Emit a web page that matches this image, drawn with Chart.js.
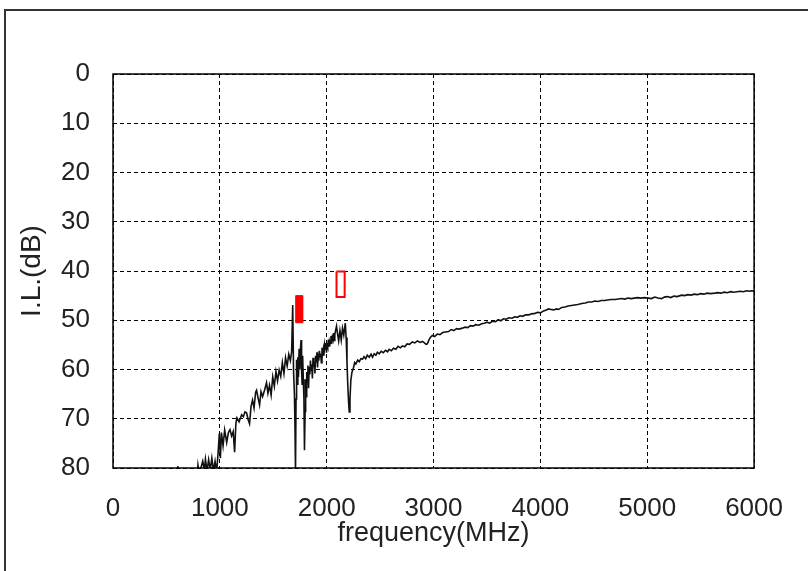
<!DOCTYPE html>
<html>
<head>
<meta charset="utf-8">
<script src="https://cdn.jsdelivr.net/npm/chart.js@4.4.0/dist/chart.umd.min.js"></script>
<style>
  html, body { margin: 0; padding: 0; background: #fff; }
  canvas { display: block; }
</style>
</head>
<body>
<canvas id="ilChart" width="808" height="571"></canvas>
<script>
"use strict";

// measured trace: frequency (MHz) and insertion loss (dB)
const freqMHz = [
    600, 607, 615, 650, 700, 750, 780, 795, 810, 825, 840, 855, 865, 880, 895, 910, 925, 940, 955, 970, 985, 995,
    1005, 1015, 1030, 1045, 1064, 1080, 1095, 1110, 1125, 1138, 1150, 1160, 1180, 1204, 1220, 1235, 1250, 1265, 1278, 1292,
    1306, 1320, 1335, 1344, 1358, 1372, 1385, 1400, 1418, 1437, 1450, 1465, 1480, 1495, 1510, 1525, 1540, 1555, 1570, 1585,
    1600, 1615, 1630, 1645, 1660, 1672, 1682, 1690, 1698, 1704, 1708,
    1713, 1718, 1724, 1730, 1736, 1742, 1748, 1754, 1760, 1765, 1770, 1775, 1781, 1787, 1792, 1798,
    1803, 1808, 1813, 1818, 1824, 1830, 1836, 1842, 1848, 1854, 1860, 1866, 1872, 1878, 1884, 1890,
    1896, 1902, 1908, 1914, 1920, 1926, 1932, 1938, 1944, 1950, 1956, 1962, 1968, 1974, 1980, 1986,
    1992, 1998, 2004, 2010, 2016, 2022, 2028, 2034, 2040, 2046, 2052, 2058, 2064, 2070, 2076, 2082,
    2092, 2102, 2112, 2124, 2136, 2148, 2160, 2174, 2182, 2190, 2198, 2206, 2211, 2218,
    2226, 2236, 2250, 2262, 2273, 2290, 2305, 2320, 2336, 2350, 2365, 2380, 2398, 2415, 2429, 2445, 2460, 2475, 2491, 2510,
    2530, 2550, 2570, 2585, 2605, 2625, 2647, 2668, 2690, 2709, 2730, 2752, 2775, 2802, 2825, 2850, 2875, 2896, 2915, 2930,
    2942, 2955, 2970, 2989, 3010, 3035, 3060, 3085, 3113, 3140, 3165, 3190, 3215, 3240, 3269, 3295, 3320, 3345, 3370, 3395,
    3424, 3450, 3475, 3500, 3525, 3550, 3580, 3605, 3630, 3655, 3680, 3705, 3735, 3760, 3785, 3810, 3835, 3860, 3891, 3920,
    3950, 3975, 4000, 4030, 4055, 4077, 4100, 4125, 4150, 4171, 4200, 4230, 4260, 4290, 4320, 4350, 4388, 4420, 4450, 4480,
    4510, 4540, 4570, 4600, 4630, 4660, 4699, 4730, 4760, 4790, 4820, 4850, 4880, 4910, 4940, 4970, 5011, 5040, 5070, 5100,
    5135, 5160, 5190, 5220, 5250, 5280, 5322, 5350, 5380, 5410, 5440, 5470, 5500, 5530, 5560, 5590, 5633, 5660, 5690, 5720,
    5750, 5780, 5810, 5840, 5870, 5900, 5930, 5960, 5975, 6000
];
const insertionLoss = [
    86, 79.6, 86, 88, 87, 85, 84, 79.4, 81.5, 79.8, 78.6, 80.5, 78.2, 80.6, 78.3, 80.4, 78, 80.6, 78.6, 80.8, 76.5, 73,
    78, 72.8, 75.5, 72.3, 74.8, 72.8, 72.2, 73.5, 72.6, 76.8, 71, 69.8, 70.6, 69.2, 69.6, 68.6, 68.8, 70.2, 71, 67.5,
    66.2, 67.8, 64.6, 64.2, 65.8, 67.2, 64.5, 65.5, 64.2, 62.7, 64.8, 63.2, 65.2, 61.5, 63.4, 60.4, 62.3, 60.1, 61.4, 58.6,
    60.8, 57.6, 59.3, 56.9, 58.2, 56.4, 46.9, 60.5, 65, 73, 81,
    66, 58, 63, 57.5, 61.5, 55.8, 60, 56, 54, 60, 63, 57.2, 62, 66, 76.4, 68.5,
    62, 65.5, 60.5, 62, 59.2, 63.8, 59.5, 61, 58.2, 60.2, 59, 61.8, 57.6, 59.5, 58.5, 60.8,
    57.2, 58.4, 56.5, 59.6, 57.5, 58.2, 56.2, 57.4, 56.8, 58.6, 55.6, 56.8, 55.9, 57.2, 55, 55.9,
    54.6, 56.6, 55.1, 55.5, 53.9, 55.2, 54.3, 54.7, 53.2, 54.8, 53.5, 53.9, 52.6, 54.1, 52.9, 52.2,
    51.2, 52.8, 54.2, 52.1, 54, 51.6, 53, 50.6, 53.5, 58.5, 63.5, 67, 68.6, 66,
    62.2, 60.6, 59.7, 58.6, 58.9, 58.1, 58.4, 57.8, 57.9, 57.4, 57.8, 57.1, 57.5, 56.9, 57.5, 56.8, 57.1, 56.5, 56.8, 56.3,
    56.6, 56.1, 56.4, 55.9, 56.2, 55.7, 55.9, 55.3, 55.6, 55.2, 55.4, 54.8, 54.9, 54.4, 54.6, 54.2, 54.5, 54.3, 54.6, 54.9,
    54.8, 54.1, 53.5, 53.1, 53.3, 52.8, 52.9, 52.5, 52.4, 52.3, 51.9, 52.1, 51.7, 51.8, 51.6, 51.4, 51.5, 51.1, 51.2, 50.9,
    51, 50.7, 50.6, 50.4, 50.6, 50.2, 50.3, 49.9, 50.1, 49.7, 49.8, 49.5, 49.6, 49.3, 49.4, 49.1, 49.2, 48.9, 48.9, 48.7,
    48.6, 48.4, 48.5, 48.1, 47.9, 47.7, 47.8, 47.9, 47.7, 47.8, 47.4, 47.3, 47.1, 47.0, 46.9, 46.8, 46.6, 46.5, 46.3, 46.3,
    46.1, 46.2, 46, 46.0, 45.9, 45.8, 45.8, 45.7, 45.6, 45.7, 45.5, 45.6, 45.5, 45.4, 45.5, 45.4, 45.5, 45.6, 45.3, 45.5,
    45.6, 45.3, 45.2, 45.4, 45.1, 45.2, 44.9, 45, 44.8, 44.9, 44.7, 44.8, 44.6, 44.7, 44.5, 44.6, 44.5, 44.4, 44.5, 44.3,
    44.4, 44.2, 44.3, 44.2, 44.1, 44.2, 44, 44.1, 44, 44.1
];

// spec bands (red boxes): frequency range and attenuation range
const bandLow = [1710, 2092];
const bandHigh = [1775, 2168];
const bandTop = [45, 40.1];
const bandBottom = [50.5, 45.3];
const bandFilled = [true, false];

const xTicks = [0, 1000, 2000, 3000, 4000, 5000, 6000];
const yTicks = [0, 10, 20, 30, 40, 50, 60, 70, 80];

const ctx = document.getElementById("ilChart").getContext("2d");

let trace = freqMHz.map((f, i) => ({ x: f, y: insertionLoss[i] }));

let bandSets = bandLow.map((lo, i) => ({
    data: [
        { x: lo, y: bandTop[i] },
        { x: bandHigh[i], y: bandTop[i] },
        { x: bandHigh[i], y: bandBottom[i] },
        { x: lo, y: bandBottom[i] },
        { x: lo, y: bandTop[i] }
    ],
    showLine: true,
    borderColor: "rgb(255, 0, 0)",
    backgroundColor: bandFilled[i] ? "rgb(255, 0, 0)" : "rgba(0,0,0,0)",
    borderWidth: bandFilled[i] ? 1 : 2,
    fill: bandFilled[i] ? "shape" : false,
    pointRadius: 0,
    tension: 0
}));

// outer picture frame and solid plot border
const framePlugin = {
    id: "frame",
    afterDraw(chart) {
        const c = chart.ctx;
        const a = chart.chartArea;
        c.save();
        c.strokeStyle = "#333";
        c.lineWidth = 2;
        c.beginPath();
        c.moveTo(5, 571);
        c.lineTo(5, 10);
        c.lineTo(808, 10);
        c.stroke();
        c.strokeStyle = "#000";
        c.lineWidth = 1.5;
        c.strokeRect(a.left, a.top, a.right - a.left, a.bottom - a.top);
        c.restore();
    }
};

const fontFamily = "'Liberation Sans', Arial, sans-serif";

let config = {
    type: "scatter",
    data: {
        datasets: [{
            data: trace,
            showLine: true,
            borderColor: "#111",
            borderWidth: 1.6,
            pointRadius: 0,
            tension: 0
        }].concat(bandSets)
    },
    options: {
        responsive: false,
        animation: false,
        devicePixelRatio: 1,
        layout: {
            padding: { top: 74, right: 52, left: 0, bottom: 0 }
        },
        plugins: {
            legend: { display: false },
            tooltip: { enabled: false }
        },
        scales: {
            x: {
                type: "linear",
                min: 0,
                max: 6000,
                afterBuildTicks: (axis) => { axis.ticks = xTicks.map(v => ({ value: v })); },
                afterFit: (axis) => { axis.height = 103; },
                grid: { color: "#000", lineWidth: 1, drawTicks: false },
                border: { display: false, dash: [4, 3] },
                ticks: {
                    padding: 25,
                    color: "#222",
                    maxRotation: 0,
                    font: { family: fontFamily, size: 26 },
                    callback: (v) => String(v)
                },
                title: {
                    display: true,
                    text: "frequency(MHz)",
                    color: "#222",
                    padding: { top: 0, bottom: 21 },
                    font: { family: fontFamily, size: 27 }
                }
            },
            y: {
                type: "linear",
                reverse: true,
                min: 0,
                max: 80,
                afterBuildTicks: (axis) => { axis.ticks = yTicks.map(v => ({ value: v })); },
                afterFit: (axis) => { axis.width = 113; },
                grid: { color: "#000", lineWidth: 1, drawTicks: false },
                border: { display: false, dash: [4, 3] },
                ticks: {
                    padding: 23,
                    color: "#222",
                    font: { family: fontFamily, size: 26 },
                    callback: (v) => String(v)
                },
                title: {
                    display: true,
                    text: "I.L.(dB)",
                    color: "#222",
                    padding: { top: 15, bottom: 0 },
                    font: { family: fontFamily, size: 28 }
                }
            }
        }
    },
    plugins: [framePlugin]
};

let ilChart = new Chart(ctx, config);
</script>
</body>
</html>
